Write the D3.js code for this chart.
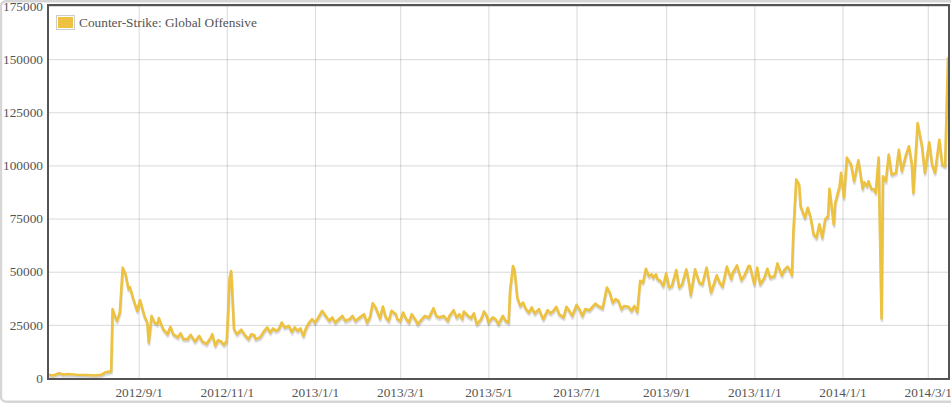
<!DOCTYPE html>
<html>
<head>
<meta charset="utf-8">
<script src="https://cdn.jsdelivr.net/npm/d3@7/dist/d3.min.js"></script>
<style>
  html, body { margin: 0; padding: 0; background: #fff; }
  svg { display: block; }
  text { font-family: "Liberation Serif", "Times New Roman", serif; }
</style>
</head>
<body>
<svg id="chart" width="951" height="404"></svg>
<script>
const seriesName = "Counter-Strike: Global Offensive";
const dates = [
"2012-07-01","2012-07-04","2012-07-08","2012-07-11","2012-07-14","2012-07-20","2012-07-27","2012-08-02","2012-08-06","2012-08-09",
"2012-08-13","2012-08-14","2012-08-16","2012-08-17","2012-08-19","2012-08-21","2012-08-23","2012-08-25","2012-08-26","2012-08-28",
"2012-08-31","2012-09-02","2012-09-05","2012-09-07","2012-09-08","2012-09-10","2012-09-12","2012-09-14","2012-09-15","2012-09-18",
"2012-09-21","2012-09-23","2012-09-25","2012-09-28","2012-09-30","2012-10-02","2012-10-05","2012-10-07","2012-10-10","2012-10-13",
"2012-10-15","2012-10-18","2012-10-21","2012-10-22","2012-10-24","2012-10-26","2012-10-28","2012-10-30","2012-11-01","2012-11-03",
"2012-11-04","2012-11-06","2012-11-08","2012-11-11","2012-11-14","2012-11-16","2012-11-18","2012-11-20","2012-11-21","2012-11-24",
"2012-11-27","2012-11-29","2012-12-01","2012-12-03","2012-12-05","2012-12-07","2012-12-09","2012-12-11","2012-12-14","2012-12-16",
"2012-12-18","2012-12-20","2012-12-22","2012-12-24","2012-12-26","2012-12-28","2012-12-30","2013-01-01","2013-01-03","2013-01-06",
"2013-01-08","2013-01-11","2013-01-13","2013-01-15","2013-01-18","2013-01-20","2013-01-22","2013-01-25","2013-01-27","2013-01-29",
"2013-02-01","2013-02-04","2013-02-06","2013-02-08","2013-02-10","2013-02-12","2013-02-15","2013-02-17","2013-02-19","2013-02-21",
"2013-02-23","2013-02-26","2013-02-27","2013-03-01","2013-03-03","2013-03-05","2013-03-07","2013-03-09","2013-03-12","2013-03-13",
"2013-03-16","2013-03-18","2013-03-21","2013-03-24","2013-03-26","2013-03-28","2013-03-31","2013-04-03","2013-04-04","2013-04-07",
"2013-04-09","2013-04-11","2013-04-13","2013-04-14","2013-04-17","2013-04-19","2013-04-21","2013-04-23","2013-04-26","2013-04-28",
"2013-04-30","2013-05-01","2013-05-04","2013-05-06","2013-05-08","2013-05-11","2013-05-13","2013-05-15","2013-05-16","2013-05-18",
"2013-05-19","2013-05-21","2013-05-23","2013-05-25","2013-05-27","2013-05-29","2013-05-31","2013-06-02","2013-06-05","2013-06-07",
"2013-06-08","2013-06-11","2013-06-13","2013-06-15","2013-06-17","2013-06-19","2013-06-22","2013-06-24","2013-06-26","2013-06-28",
"2013-07-01","2013-07-03","2013-07-05","2013-07-07","2013-07-10","2013-07-12","2013-07-14","2013-07-16","2013-07-19","2013-07-22",
"2013-07-24","2013-07-26","2013-07-28","2013-07-30","2013-08-01","2013-08-03","2013-08-06","2013-08-08","2013-08-10","2013-08-12",
"2013-08-14","2013-08-16","2013-08-18","2013-08-20","2013-08-22","2013-08-23","2013-08-25","2013-08-26","2013-08-28","2013-08-30",
"2013-09-01","2013-09-03","2013-09-05","2013-09-08","2013-09-10","2013-09-12","2013-09-15","2013-09-17","2013-09-18","2013-09-21",
"2013-09-24","2013-09-26","2013-09-29","2013-10-02","2013-10-04","2013-10-06","2013-10-08","2013-10-10","2013-10-13","2013-10-16",
"2013-10-17","2013-10-20","2013-10-23","2013-10-25","2013-10-28","2013-10-29","2013-11-01","2013-11-03","2013-11-05","2013-11-08",
"2013-11-10","2013-11-12","2013-11-15","2013-11-17","2013-11-20","2013-11-22","2013-11-24","2013-11-26","2013-11-27","2013-11-28",
"2013-11-30","2013-12-02","2013-12-03","2013-12-06","2013-12-08","2013-12-10","2013-12-12","2013-12-14","2013-12-16","2013-12-18",
"2013-12-20","2013-12-22","2013-12-23","2013-12-26","2013-12-27","2013-12-30","2013-12-31","2014-01-02","2014-01-04","2014-01-07",
"2014-01-09","2014-01-12","2014-01-15","2014-01-16","2014-01-18","2014-01-19","2014-01-21","2014-01-23","2014-01-24","2014-01-26",
"2014-01-28","2014-01-29","2014-01-31","2014-02-02","2014-02-04","2014-02-07","2014-02-09","2014-02-11","2014-02-14","2014-02-16",
"2014-02-18","2014-02-19","2014-02-22","2014-02-25","2014-02-27","2014-03-02","2014-03-04","2014-03-06","2014-03-09","2014-03-11",
"2014-03-13","2014-03-15"
];
const players = [
1500,1200,2200,1600,1900,1500,1400,1200,1500,2700,
3100,32400,28500,26900,30800,51900,48800,41800,42800,37900,
31600,36600,29200,26100,16700,29200,26100,25300,28200,23000,
20600,24100,20600,19100,21000,18300,18300,20300,17200,19800,
17200,16000,19100,20600,15200,17800,17200,15600,17500,47200,
50300,23000,20600,22700,19800,18300,20600,20200,18300,19100,
22200,23800,21400,23300,22200,23000,26100,23800,24500,21700,
23800,22200,23300,19800,23800,26100,27700,26100,28000,31600,
29600,26900,28500,26100,28000,29200,26900,27700,29200,26900,
28500,30000,26100,28500,35200,33200,28000,33600,28500,26900,
31600,30000,27700,26900,30800,28000,26100,30000,26900,25300,
27700,29200,28500,32800,29200,28500,29200,26900,29200,31900,
28500,30000,27700,31300,29200,28200,30400,25300,27700,31300,
29200,26100,28500,27700,25300,29200,26900,26100,41000,52700,
51100,37900,33900,35500,32400,30800,33200,30400,32400,29200,
27700,31900,30400,31600,33500,30000,28500,33500,31600,29200,
34400,32400,29200,32400,31900,33500,35000,33900,32800,42600,
40200,35500,37100,36300,32400,33900,33500,31600,33900,31000,
45700,44900,51400,48000,48800,47200,48800,46500,45700,43300,
49300,42600,43300,50800,42600,44100,51100,44100,38900,51100,
44900,44100,51900,40200,44100,48300,44900,43000,52400,46500,
49300,53000,46100,48000,52700,52700,44100,51900,44100,47200,
51400,47200,48000,53900,48300,51100,52400,50300,48300,68400,
93400,91000,80800,75400,80100,75400,67600,66000,72300,66000,
74600,76100,89000,72200,82400,90200,96500,84800,103700,100400,
92600,102400,89000,92100,90200,92600,89000,88700,87100,103700,
28000,94900,92600,105100,95700,96500,107400,97300,105100,109000,
100400,87100,119900,109000,96500,110900,100400,96500,112100,100400,
99600,150900
];
const xTickLabels = ["2012/9/1","2012/11/1","2013/1/1","2013/3/1","2013/5/1","2013/7/1","2013/9/1","2013/11/1","2014/1/1","2014/3/1"];
const yTicks = [0,25000,50000,75000,100000,125000,150000,175000];

const parseDate = d3.utcParse("%Y-%m-%d");
const parseTick = d3.utcParse("%Y/%m/%d");
const data = dates.map((d, i) => ({ date: parseDate(d), value: players[i] }));

const svg = d3.select("#chart");
const plot = { left: 49, right: 948, top: 6, bottom: 378 };
const labelColor = "#545454";

// outer frame
svg.append("rect")
  .attr("x", 1).attr("y", 1.2).attr("width", 990).attr("height", 400.5)
  .attr("rx", 5).attr("fill", "#fff")
  .attr("stroke", "#d6d6d6").attr("stroke-width", 2.4);

const x = d3.scaleUtc()
  .domain([parseDate(dates[0]), parseDate(dates[dates.length - 1])])
  .range([plot.left, plot.right]);
const y = d3.scaleLinear().domain([0, 175000]).range([plot.bottom, plot.top]);

// x axis with vertical gridlines
const xAxis = d3.axisBottom(x)
  .tickValues(xTickLabels.map(parseTick))
  .tickFormat((d, i) => xTickLabels[i])
  .tickSize(-(plot.bottom - plot.top))
  .tickPadding(10);
const gx = svg.append("g").attr("transform", `translate(0,${plot.bottom})`).call(xAxis);
gx.select(".domain").remove();
gx.selectAll("line").attr("stroke", "rgba(84,84,84,0.22)").attr("stroke-width", 1);
gx.selectAll("text").attr("fill", labelColor).style("font-size", "13.33px")
  .style("font-family", '"Liberation Serif", "Times New Roman", serif');

// y axis with horizontal gridlines
const yAxis = d3.axisLeft(y)
  .tickValues(yTicks)
  .tickFormat(d3.format("d"))
  .tickSize(-(plot.right - plot.left))
  .tickPadding(6);
const gy = svg.append("g").attr("transform", `translate(${plot.left},0)`).call(yAxis);
gy.select(".domain").remove();
gy.selectAll("line").attr("stroke", "rgba(84,84,84,0.22)").attr("stroke-width", 1);
gy.selectAll("text").attr("fill", labelColor).style("font-size", "13.33px")
  .style("font-family", '"Liberation Serif", "Times New Roman", serif');

// line with flot-like shadow
const line = d3.line().x(d => x(d.date)).y(d => y(d.value));
svg.append("path").datum(data).attr("d", line)
  .attr("fill", "none").attr("stroke", "rgba(0,0,0,0.1)").attr("stroke-width", 3)
  .attr("stroke-linejoin", "round")
  .attr("transform", "translate(0.43,2.46)");
svg.append("path").datum(data).attr("d", line)
  .attr("fill", "none").attr("stroke", "rgba(0,0,0,0.1)").attr("stroke-width", 1.5)
  .attr("stroke-linejoin", "round")
  .attr("transform", "translate(0.31,1.72)");
svg.append("path").datum(data).attr("d", line)
  .attr("fill", "none").attr("stroke", "#edc240").attr("stroke-width", 2.6)
  .attr("stroke-linejoin", "round");

// plot border
svg.append("rect")
  .attr("x", plot.left - 1).attr("y", plot.top - 1)
  .attr("width", plot.right - plot.left + 2).attr("height", plot.bottom - plot.top + 2)
  .attr("fill", "none").attr("stroke", labelColor).attr("stroke-width", 2);

// legend
const lg = svg.append("g").attr("transform", "translate(56,15)");
lg.append("rect").attr("x", 0.5).attr("y", 0.5).attr("width", 18).attr("height", 14)
  .attr("fill", "#fff").attr("stroke", "#ccc").attr("stroke-width", 1);
lg.append("rect").attr("x", 2).attr("y", 2).attr("width", 15).attr("height", 11)
  .attr("fill", "#edc240");
lg.append("text").attr("x", 23).attr("y", 12)
  .attr("fill", labelColor).style("font-size", "13.33px")
  .text(seriesName);
</script>
</body>
</html>
